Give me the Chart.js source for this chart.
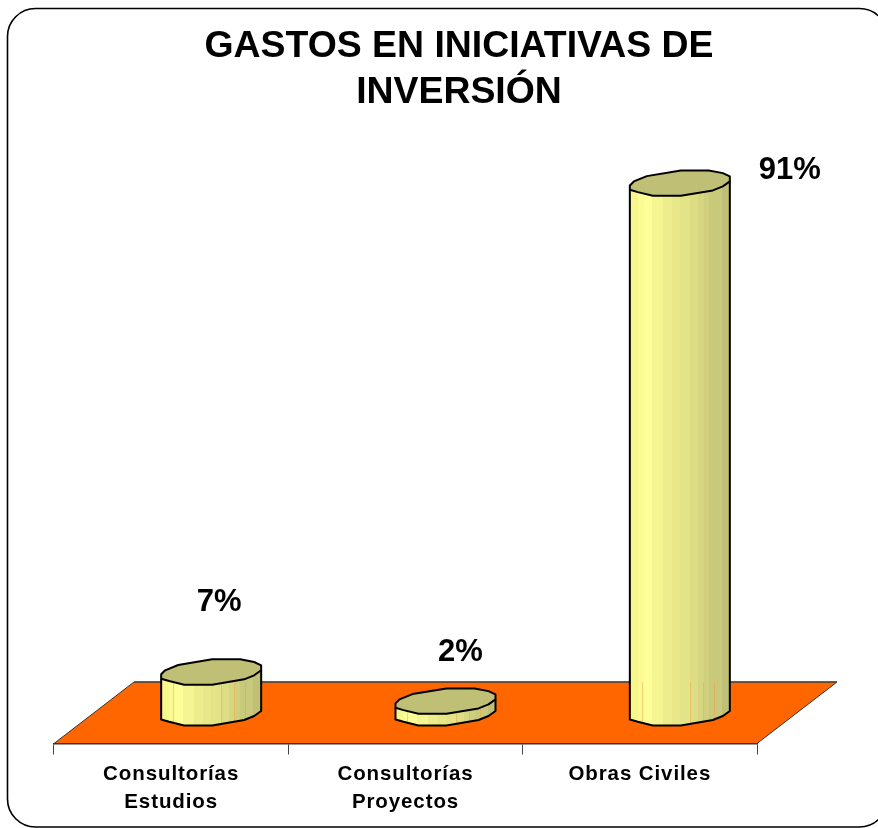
<!DOCTYPE html>
<html><head><meta charset="utf-8">
<style>html,body{margin:0;padding:0;background:#fff}#w{width:878px;height:828px;position:relative}</style>
<script src="https://cdn.jsdelivr.net/npm/chart.js@4/dist/chart.umd.min.js"></script>
</head><body><div id="w"><canvas id="c" width="878" height="828"></canvas></div>
<script>
const categories = [["Consultorías","Estudios"],["Consultorías","Proyectos"],["Obras Civiles"]];
const values = [7, 2, 91];
const titleLines = ["GASTOS EN INICIATIVAS DE","INVERSIÓN"];

// floor depth of the 3D view, and manual label placement from the bar's top
const depthX = 80, depthY = 61.5;
const labelShift = [[8,-70],[15,-49],[110,-13]];
// one cylinder cap (unit: half width = 50)
const cap = [[-50,2.3],[-46,-1.7],[-33,-7],[1,-12.7],[29,-12.7],[43,-10],[50,-6.7],[50,-1.7],[43,3.3],[33,7.3],[1,12.7],[-27,12.7],[-42,9],[-50,6.7]];
const lowerRim = [12,11,10,9,8,7];
const sideBands = ["#F6F68C","#FBFB94","#FFFF99","#F5F591","#EDED8D","#E8E88B","#E3E388","#DDDD85","#D6D681","#CFCF7E","#C9C97B","#BFBF75"];
const bandEdges = [0,.08,.14,.22,.33,.42,.5,.6,.68,.74,.79,.92,1];
const seams = [-38,10,23,34];

function trace(ctx, cx, cy, s, idx){
  idx.forEach((i,k)=>{const p=cap[i];const x=cx+p[0]*s,y=cy+p[1];k?ctx.lineTo(x,y):ctx.moveTo(x,y);});
}
function trace2(ctx,cx,cy,s,idx){ idx.forEach(i=>{const p=cap[i];ctx.lineTo(cx+p[0]*s,cy+p[1]);}); }
const scene = {
  id:'scene',
  afterLayout(chart){
    // the title is centred over the plot including its depth
    chart.titleBlock.left = 40; chart.titleBlock.right = 878;
    const x = chart.scales.x;
    if(!x._spaced){
      x._spaced = true;
      const orig = x.drawLabels;
      x.drawLabels = function(a){ chart.ctx.letterSpacing='0.9px'; orig.call(this,a); chart.ctx.letterSpacing='0px'; };
    }
  },
  beforeDraw(chart){
    const c = chart.ctx;
    c.save();
    c.beginPath(); c.roundRect(7.5,8.5,880,818.5,28);
    c.strokeStyle='#000'; c.lineWidth=1.6; c.stroke();
    c.restore();
  },
  beforeDatasetsDraw(chart){
    const c = chart.ctx, a = chart.chartArea;
    c.save();
    c.beginPath();
    c.moveTo(a.left,a.bottom); c.lineTo(a.left+depthX,a.bottom-depthY);
    c.lineTo(a.right+depthX,a.bottom-depthY); c.lineTo(a.right,a.bottom); c.closePath();
    c.fillStyle='#FF6600'; c.fill();
    c.strokeStyle='#333'; c.lineWidth=1; c.stroke();
    c.beginPath(); c.moveTo(a.left+depthX,a.bottom-depthY); c.lineTo(a.right+depthX,a.bottom-depthY);
    c.strokeStyle='#5a4a3a'; c.lineWidth=1.5; c.stroke();
    c.restore();
  },
  afterDatasetsDraw(chart){
    const c = chart.ctx, back = chart.chartArea.bottom-depthY;
    chart.getDatasetMeta(0).data.forEach((bar,i)=>{
      const s = bar.width/100, cx = bar.x+depthX/2, top = bar.y-depthY/2, base = bar.base-depthY/2;
      const hw = bar.width/2;
      c.save();
      // side
      c.beginPath();
      c.moveTo(cx-hw,top+cap[13][1]);
      trace2(c,cx,base,s,[13,...lowerRim]);
      trace2(c,cx,top,s,[7,...lowerRim.slice().reverse()]);
      c.closePath();
      const g = c.createLinearGradient(cx-hw,0,cx+hw,0);
      sideBands.forEach((col,k)=>{ g.addColorStop(bandEdges[k],col); g.addColorStop(bandEdges[k+1],col); });
      c.fillStyle=g; c.fill();
      // faint seams over the floor
      c.save(); c.clip();
      c.strokeStyle='rgba(255,150,50,.4)'; c.lineWidth=1;
      seams.forEach(o=>{ c.beginPath(); c.moveTo(Math.round(cx+o*s)+.5,Math.max(top,back)); c.lineTo(Math.round(cx+o*s)+.5,base+14); c.stroke(); });
      c.restore();
      // outline of side
      c.beginPath();
      c.moveTo(cx-hw,top+cap[13][1]);
      c.lineTo(cx-hw,base+cap[13][1]);
      lowerRim.forEach(k=>c.lineTo(cx+cap[k][0]*s,base+cap[k][1]));
      c.lineTo(cx+hw,top+cap[7][1]);
      c.strokeStyle='#000'; c.lineWidth=2; c.lineJoin='round'; c.stroke();
      // top
      c.beginPath();
      trace(c,cx,top,s,cap.map((_,k)=>k)); c.closePath();
      c.fillStyle='#BFBF75'; c.fill(); c.stroke();
      // value label
      c.fillStyle='#000'; c.font='bold 31px "Liberation Sans"';
      c.textAlign='center'; c.textBaseline='middle';
      c.fillText(values[i]+'%',cx+labelShift[i][0],top+labelShift[i][1]);
      c.restore();
    });
  }
};

new Chart(document.getElementById('c'),{
  type:'bar',
  data:{labels:categories,datasets:[{data:values,backgroundColor:'rgba(0,0,0,0)',borderWidth:0,barPercentage:100/234.33,categoryPercentage:1}]},
  plugins:[scene],
  options:{
    responsive:false,animation:false,
    layout:{padding:{left:54,right:121,top:0,bottom:0}},
    plugins:{
      legend:{display:false},tooltip:{enabled:false},
      title:{display:true,text:titleLines,color:'#000',
        font:{family:'"Liberation Sans"',size:37.4,weight:'bold',lineHeight:46/37.4},
        padding:{top:24,bottom:45.5}}
    },
    scales:{
      x:{
        afterFit(s){s.height=84.5;},
        grid:{display:true,drawOnChartArea:false,drawTicks:true,tickLength:11,color:'#444',offset:true},
        border:{display:true,color:'#333',width:1.5},
        ticks:{color:'#000',padding:6,maxRotation:0,autoSkip:false,
          font:{family:'"Liberation Sans"',size:20.5,weight:'bold',lineHeight:28/20.5}}
      },
      y:{display:false,min:0,max:100}
    }
  }
});
</script></body></html>
